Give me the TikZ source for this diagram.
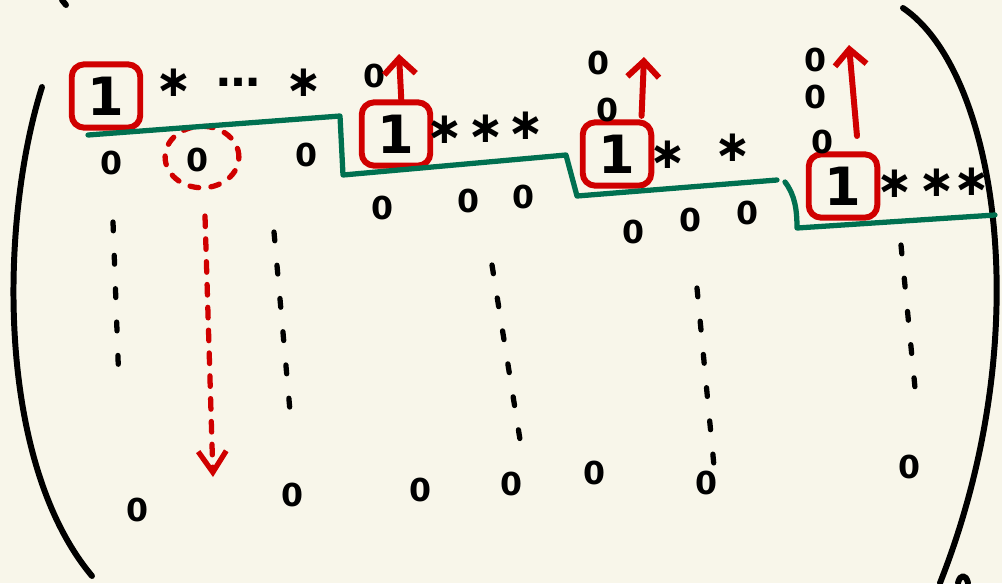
\documentclass[tikz,border=0pt]{standalone}
\usepackage{fontspec}
\setmainfont{DejaVu Sans}
\usetikzlibrary{arrows.meta,shapes.geometric}
\definecolor{paper}{RGB}{248,246,234}
\definecolor{inkred}{RGB}{208,0,0}
\definecolor{inkgreen}{RGB}{0,112,80}

\begin{document}
\begin{tikzpicture}[x=0.02cm,y=-0.02cm,line cap=round,line join=round,
  pen/.style={line width=3.4pt},
  zero/.style={inner sep=0pt,font=\fontsize{18}{18}\selectfont\bfseries},
  star/.style={inner sep=0pt,font=\fontsize{25}{25}\selectfont\bfseries},
  pivot/.style={draw=inkred,line width=3.4pt,rounded corners=7pt,minimum width=39pt,
    minimum height=36pt,inner sep=0pt,font=\fontsize{30}{30}\selectfont\bfseries},
  stair/.style={draw=inkgreen,line width=3pt},
  lift/.style={draw=inkred,line width=3.4pt,-{Straight Barb[length=9pt,width=18pt]}},
  drop/.style={draw=inkred,line width=3pt,dash pattern=on 6pt off 7pt,
    -{Straight Barb[length=12pt,width=16pt]}},
  vdots/.style={line width=3pt,dash pattern=on 5pt off 14pt}]
\useasboundingbox[fill=paper] (0,0) rectangle (1002,583);

% the brackets
\draw[pen] (42,87) .. controls (0,220) and (-5,460) .. (92,576);
\draw[pen] (903,8) .. controls (995,70) and (1040,330) .. (940,583);
\draw[pen] (62,0) -- (66,5);
\draw[pen] (958,583) .. controls (960,574) and (966,574) .. (968,583);

% pivots
\node[pivot] (P1) at (106,96) {1};
\node[pivot] (P2) at (396,134) {1};
\node[pivot] (P3) at (617,154) {1};
\node[pivot] (P4) at (843,186) {1};

% first row
\node[star] (R1a) at (174,83) {∗};
\node[star] (R1b) at (238,82) {…};
\node[star] (R1c) at (304,83) {∗};
\node[zero] (R1d) at (375,76) {0};

% second row
\node[zero] (R2a) at (112,163) {0};
\node[zero] (Z) at (198,160) {0};
\node[zero] (R2c) at (307,155) {0};
\node[star] (R2d) at (445,130) {∗};
\node[star] (R2e) at (486,129) {∗};
\node[star] (R2f) at (526,126) {∗};
\node[draw=inkred,line width=3pt,dash pattern=on 5pt off 7pt,ellipse,
  minimum width=42pt,minimum height=35pt] (ZC) at (202,157) {};

% third row
\node[zero] (R3a) at (598,63) {0};
\node[zero] (R3b) at (607,110) {0};
\node[zero] (R3c) at (383,208) {0};
\node[zero] (R3d) at (469,201) {0};
\node[zero] (R3e) at (523,197) {0};
\node[star] (R3f) at (668,155) {∗};
\node[star] (R3g) at (733,148) {∗};

% fourth row
\node[zero] (R4a) at (815,60) {0};
\node[zero] (R4b) at (815,97) {0};
\node[zero] (R4c) at (822,142) {0};
\node[zero] (R4d) at (633,232) {0};
\node[zero] (R4e) at (690,220) {0};
\node[zero] (R4f) at (747,213) {0};
\node[star] (R4g) at (895,184) {∗};
\node[star] (R4h) at (937,183) {∗};
\node[star] (R4i) at (972,182) {∗};

% last row
\node[zero] (B1) at (138,510) {0};
\node[zero] (B2) at (293,495) {0};
\node[zero] (B3) at (420,490) {0};
\node[zero] (B4) at (511,484) {0};
\node[zero] (B5) at (594,473) {0};
\node[zero] (B6) at (706,483) {0};
\node[zero] (B7) at (909,467) {0};

% staircase
\draw[stair] (88,135) -- (340,116) -- (343,175) -- (566,155) -- (577,196) -- (777,180);
\draw[stair] (785,182) .. controls (795,195) and (797,210) .. (797,228) -- (995,215);

% columns going down
\draw[vdots] (113,222) -- (119,385);
\draw[vdots] (274,232) -- (291,422);
\draw[vdots] (492,265) -- (522,452);
\draw[vdots] (697,288) -- (714,466);
\draw[vdots] (901,245) -- (917,408);

% moves
\coordinate (H2) at (399,54);
\coordinate (H3) at (644,57);
\coordinate (T4) at (857,136);
\coordinate (H4) at (849,45);
\coordinate (D1) at (205,216);
\coordinate (D2) at (213,477);
\draw[lift] ([xshift=3pt]P2.north) -- (H2);
\draw[lift] ([xshift=14pt,yshift=2pt]P3.north) -- (H3);
\draw[lift] (T4) -- (H4);
\draw[drop] (D1) -- (D2);
\end{tikzpicture}
\end{document}
